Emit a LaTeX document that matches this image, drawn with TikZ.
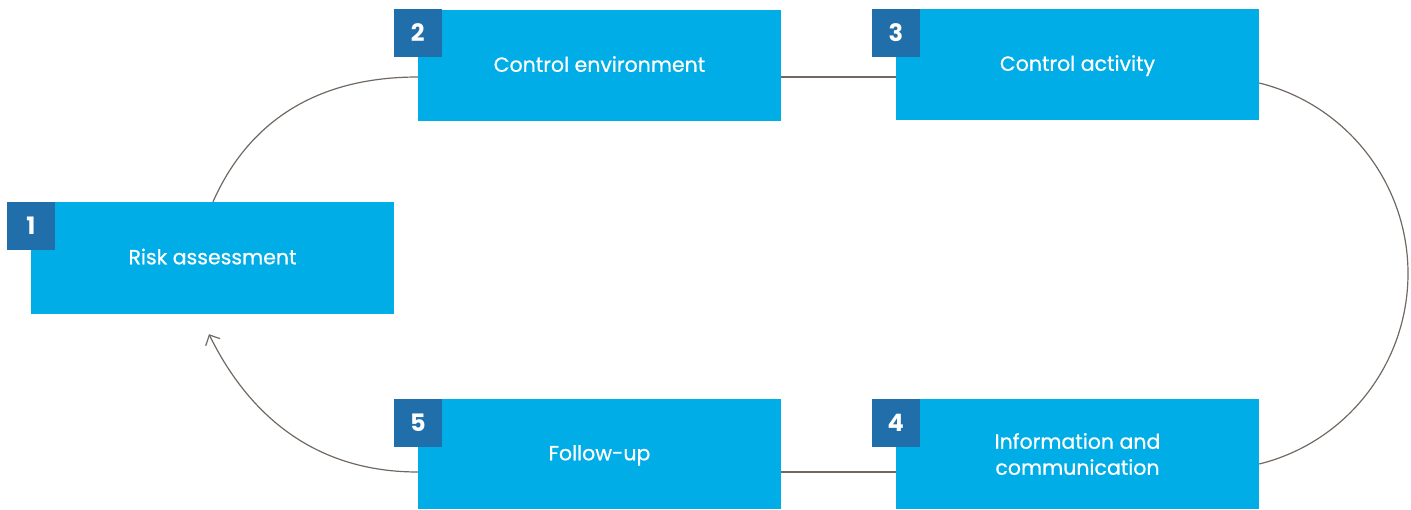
\documentclass[tikz,border=0pt]{standalone}
\usepackage{fontspec}
\setmainfont{Poppins}
\newfontfamily\boxfont{Poppins}[FakeBold=0.7]
\usetikzlibrary{calc,arrows.meta}
\definecolor{boxblue}{RGB}{0,173,230}
\definecolor{badgeblue}{RGB}{32,110,170}
\definecolor{linegray}{RGB}{112,104,98}
\begin{document}
\begin{tikzpicture}[x=1pt,y=-1pt,
  stepbox/.style={fill=boxblue,draw=none,minimum width=363pt,minimum height=111pt,inner sep=0pt,
    text=white,font=\boxfont\fontsize{20.5}{26}\selectfont,align=center},
  oneline/.style={text height=15pt,text depth=2.4pt},
  badge/.style={fill=badgeblue,draw=none,minimum width=48pt,minimum height=48pt,inner sep=0pt,
    text=white,font=\fontsize{24}{28}\selectfont\bfseries,anchor=north},
  conn/.style={draw=linegray,line width=1.2pt}]
\useasboundingbox (0,0) rectangle (1411,509);
% boxes
\node[stepbox,oneline,minimum height=112pt] (b1) at (212.5,258) {Risk assessment};
\node[stepbox,oneline] (b2) at (599.5,65.5) {Control environment};
\node[stepbox,oneline] (b3) at (1077.5,64.5) {Control activity};
\node[stepbox,minimum height=110pt] (b4) at (1077.5,454) {Information and\\communication};
\node[stepbox,oneline,minimum height=110pt] (b5) at (599.5,454) {Follow-up};
% badges
\node[badge] (n1) at (b1.north west) {1};
\node[badge] (n2) at ($(b2.north west)+(0,-1)$) {2};
\node[badge] (n3) at (b3.north west) {3};
\node[badge] (n4) at (b4.north west) {4};
\node[badge] (n5) at (b5.north west) {5};
% connectors
\draw[conn] ($(b1.north)+(0.5,0)$) .. controls (243,134) and (303,77) .. ($(b2.west)+(0,11.5)$);
\draw[conn] ($(b2.east)+(0,11.5)$) -- ($(b3.west)+(0,12.5)$);
\draw[conn] ($(b3.east)+(0,18.5)$) .. controls (1346.6,104.6) and (1408,183.4) .. (1408,273.5)
  .. controls (1408,363.6) and (1346.6,442.4) .. ($(b4.east)+(0,10)$);
\draw[conn] ($(b4.west)+(0,18)$) -- ($(b5.east)+(0,18)$);
\draw[conn,-{Straight Barb[length=8pt,width=16pt]}] ($(b5.west)+(0,18)$) .. controls (303,472) and (242,401.5) .. ($(b1.south)+(-3.5,20)$);
\end{tikzpicture}
\end{document}
